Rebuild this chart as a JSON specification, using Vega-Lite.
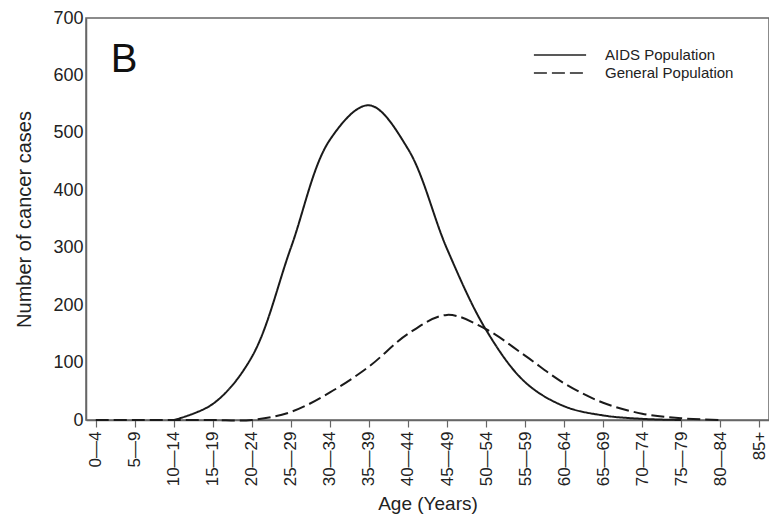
{
  "$schema": "https://vega.github.io/schema/vega-lite/v6.json",
  "width": 683,
  "height": 402,
  "autosize": {"type": "none"},
  "padding": {"left": 86, "top": 18, "right": 0, "bottom": 94},
  "background": "white",
  "config": {
    "font": "Liberation Sans",
    "view": {"stroke": "#666", "strokeWidth": 1.5},
    "axis": {"labelColor": "#222", "titleColor": "#222", "domainColor": "#666", "tickColor": "#666", "domainWidth": 1.5, "tickWidth": 1.2, "grid": false, "labelFont": "Liberation Sans", "titleFont": "Liberation Sans", "titleFontWeight": "normal"},
    "legend": {"labelFont": "Liberation Sans", "labelColor": "#222"}
  },
  "layer": [
    {
      "data": {
        "values": [
          {"age": "0—4", "population": "General Population", "cases": 0},
          {"age": "5—9", "population": "General Population", "cases": 0},
          {"age": "10—14", "population": "General Population", "cases": 0},
          {"age": "15—19", "population": "General Population", "cases": 0},
          {"age": "20—24", "population": "General Population", "cases": 0},
          {"age": "25—29", "population": "General Population", "cases": 14},
          {"age": "30—34", "population": "General Population", "cases": 48},
          {"age": "35—39", "population": "General Population", "cases": 93},
          {"age": "40—44", "population": "General Population", "cases": 150},
          {"age": "45—49", "population": "General Population", "cases": 183},
          {"age": "50—54", "population": "General Population", "cases": 158},
          {"age": "55—59", "population": "General Population", "cases": 112},
          {"age": "60—64", "population": "General Population", "cases": 64},
          {"age": "65—69", "population": "General Population", "cases": 30},
          {"age": "70—74", "population": "General Population", "cases": 11},
          {"age": "75—79", "population": "General Population", "cases": 3},
          {"age": "80—84", "population": "General Population", "cases": 0},
          {"age": "10—14", "population": "AIDS Population", "cases": 0},
          {"age": "15—19", "population": "AIDS Population", "cases": 28},
          {"age": "20—24", "population": "AIDS Population", "cases": 110},
          {"age": "25—29", "population": "AIDS Population", "cases": 300},
          {"age": "30—34", "population": "AIDS Population", "cases": 488},
          {"age": "35—39", "population": "AIDS Population", "cases": 548},
          {"age": "40—44", "population": "AIDS Population", "cases": 472},
          {"age": "45—49", "population": "AIDS Population", "cases": 298},
          {"age": "50—54", "population": "AIDS Population", "cases": 157},
          {"age": "55—59", "population": "AIDS Population", "cases": 66},
          {"age": "60—64", "population": "AIDS Population", "cases": 24},
          {"age": "65—69", "population": "AIDS Population", "cases": 8},
          {"age": "70—74", "population": "AIDS Population", "cases": 2},
          {"age": "75—79", "population": "AIDS Population", "cases": 0}
        ]
      },
      "mark": {"type": "line", "interpolate": "catmull-rom", "strokeWidth": 2, "color": "#1a1a1a"},
      "encoding": {
        "x": {
          "field": "age", "type": "ordinal",
          "scale": {"type": "point", "padding": 0.25, "domain": ["0—4","5—9","10—14","15—19","20—24","25—29","30—34","35—39","40—44","45—49","50—54","55—59","60—64","65—69","70—74","75—79","80—84","85+"]},
          "axis": {"title": "Age  (Years)", "titleFontSize": 19, "titlePadding": 9, "labelAngle": -90, "labelFontSize": 17, "tickSize": 7, "labelPadding": 4, "labelAlign": "right", "labelBaseline": "middle"}
        },
        "y": {
          "field": "cases", "type": "quantitative",
          "scale": {"domain": [0, 700], "nice": false},
          "axis": {"title": "Number  of  cancer  cases", "titleFontSize": 20, "titlePadding": 18, "values": [0,100,200,300,400,500,600,700], "labelFontSize": 18, "ticks": false, "labelPadding": 3}
        },
        "detail": {"field": "population"},
        "strokeDash": {
          "field": "population", "type": "nominal",
          "scale": {"domain": ["AIDS Population", "General Population"], "range": [[1, 0], [13, 5]]},
          "legend": {"title": null, "orient": "none", "legendX": 464, "legendY": 27, "symbolType": "M-2.9,0H2.9", "symbolSize": 324, "symbolStrokeWidth": 1.5, "symbolStrokeColor": "#222", "symbolFillColor": "transparent", "labelFontSize": 15, "labelOffset": 35, "rowPadding": 0, "labelLimit": 300}
        }
      }
    },
    {
      "data": {"values": [{"panel": "B"}]},
      "mark": {"type": "text", "fontSize": 40, "align": "left", "baseline": "alphabetic", "dx": 15, "color": "#111", "font": "Liberation Sans"},
      "encoding": {
        "x": {"datum": "0—4", "type": "ordinal"},
        "y": {"datum": 606, "type": "quantitative"},
        "text": {"field": "panel"}
      }
    }
  ]
}
